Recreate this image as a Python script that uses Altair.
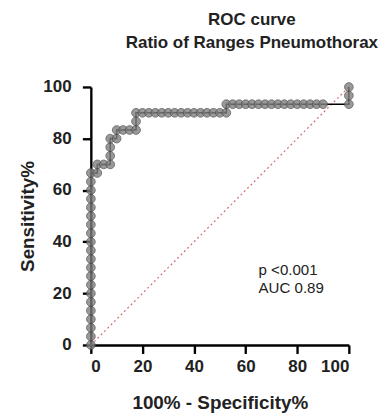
import altair as alt
import pandas as pd

# ROC curve points (100% - Specificity%, Sensitivity%)
roc_x = [0] * 21 + [2.5, 2.5, 5, 7.5, 7.5, 7.5, 7.5, 10, 10, 12.5, 15, 17.5, 17.5, 17.5,
         20, 22.5, 25, 27.5, 30, 32.5, 35, 37.5, 40, 42.5, 45, 47.5, 50, 52.5,
         52.5, 55, 57.5, 60, 62.5, 65, 67.5, 70, 72.5, 75, 77.5, 80, 82.5, 85, 87.5, 90,
         100, 100, 100]
roc_y = [round(i * 100 / 30, 2) for i in range(21)] + [
    66.67, 70, 70, 70, 73.33, 76.67, 80, 80, 83.33, 83.33, 83.33, 83.33, 86.67, 90,
    90, 90, 90, 90, 90, 90, 90, 90, 90, 90, 90, 90, 90, 90,
    93.33, 93.33, 93.33, 93.33, 93.33, 93.33, 93.33, 93.33, 93.33, 93.33, 93.33, 93.33, 93.33, 93.33, 93.33, 93.33,
    93.33, 96.67, 100]

diag_x = [0, 100]
diag_y = [0, 100]

note_text = ["p <0.001", "AUC 0.89"]
note_x = [65, 65]
note_y = [29, 22]

ticks = [0, 20, 40, 60, 80, 100]

FONT = "Liberation Sans"

roc = pd.DataFrame({"x": roc_x, "y": roc_y, "order": list(range(len(roc_x)))})
diag = pd.DataFrame({"x": diag_x, "y": diag_y})
notes = pd.DataFrame({"x": note_x, "y": note_y, "t": note_text})

xscale = alt.Scale(domain=[0, 100], nice=False)
yscale = alt.Scale(domain=[0, 100], nice=False)

axis_common = dict(
    values=ticks, grid=False, domainColor="black", domainWidth=2.5,
    tickColor="black", tickWidth=2.5, tickSize=9,
    labelFont=FONT, labelFontSize=18, labelFontWeight="bold", labelColor="#222",
    titleFont=FONT, titleFontSize=20, titleFontWeight="bold", titleColor="#222",
)

x_enc = alt.X("x:Q", scale=xscale,
              axis=alt.Axis(title="100% - Specificity%", titlePadding=19, labelPadding=5,
                            **axis_common))
y_enc = alt.Y("y:Q", scale=yscale,
              axis=alt.Axis(title="Sensitivity%", titlePadding=6, labelPadding=12,
                            **axis_common))

diag_layer = alt.Chart(diag).mark_line(
    color="#d46a6a", strokeDash=[2, 3], strokeWidth=1.3, clip=False
).encode(x=x_enc, y=y_enc)

line_layer = alt.Chart(roc).mark_line(color="black", strokeWidth=1.6, clip=False).encode(
    x=x_enc, y=y_enc, order="order:Q"
)

point_layer = alt.Chart(roc).mark_circle(
    size=85, color="#808080", opacity=0.8, stroke="#505050", strokeWidth=1, clip=False
).encode(x=x_enc, y=y_enc)

note_layer = alt.Chart(notes).mark_text(
    align="left", baseline="middle", font=FONT, fontSize=16, color="#222"
).encode(x=alt.X("x:Q", scale=xscale), y=alt.Y("y:Q", scale=yscale), text="t:N")

chart = alt.layer(diag_layer, line_layer, point_layer, note_layer).properties(
    width=274, height=274,
    padding={"left": 10, "top": -9, "right": 0, "bottom": 0},
    title=alt.TitleParams(
        ["ROC curve", "Ratio of Ranges Pneumothorax"],
        font=FONT, fontSize=18, fontWeight="bold", color="#222",
        anchor="middle", dx=34, offset=28, lineHeight=25,
    ),
).configure_view(stroke=None)

chart.save("out.html", embed_options={"renderer": "svg", "actions": False})
